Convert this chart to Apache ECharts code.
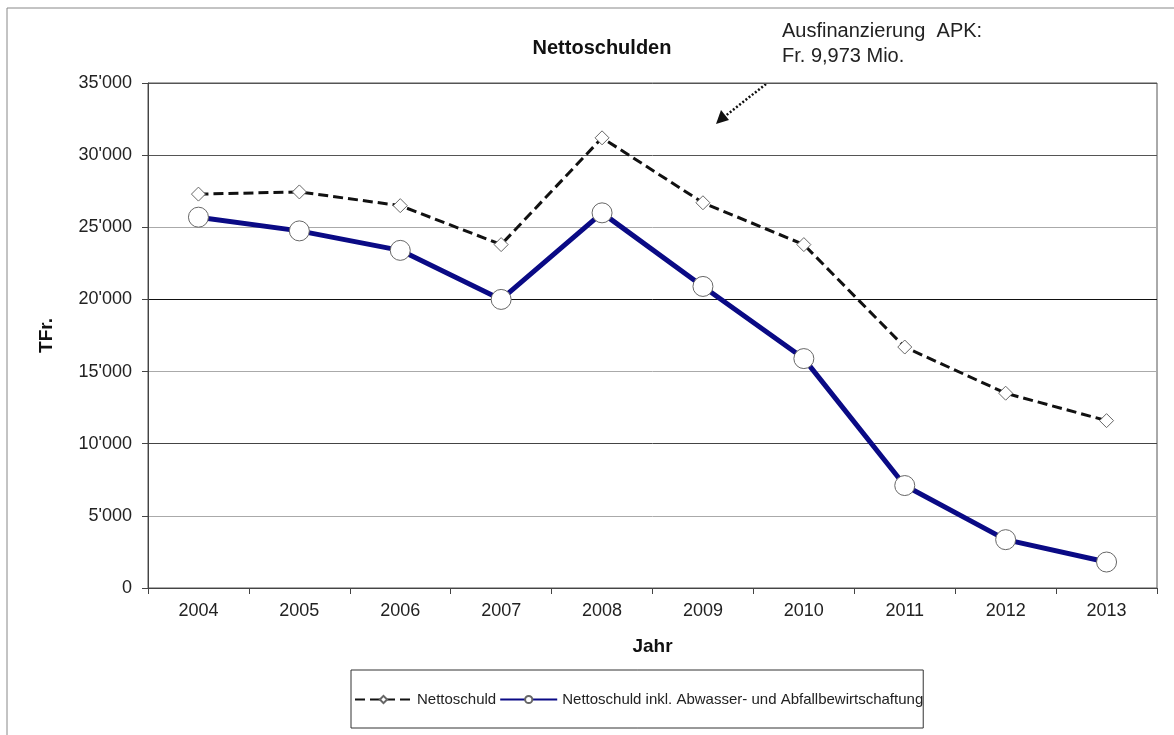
<!DOCTYPE html>
<html>
<head>
<meta charset="utf-8">
<script src="https://cdn.jsdelivr.net/npm/echarts@6/dist/echarts.min.js"></script>
<style>
  html, body { margin: 0; padding: 0; background: #fff; }
  #chart { width: 1174px; height: 735px; }
</style>
</head>
<body>
<div id="chart"></div>
<script>
  // Jahre
  var years = ['2004', '2005', '2006', '2007', '2008', '2009', '2010', '2011', '2012', '2013'];
  // Nettoschuld (TFr.)
  var nettoschuld = [27300, 27450, 26500, 23800, 31200, 26700, 23800, 16700, 13500, 11600];
  // Nettoschuld inkl. Abwasser- und Abfallbewirtschaftung (TFr.)
  var nettoschuldInkl = [25700, 24750, 23400, 20000, 26000, 20900, 15900, 7100, 3350, 1800];

  var font = 'Liberation Sans, Arial, sans-serif';

  var chart = echarts.init(document.getElementById('chart'));
  var option = {
    animation: false,
    textStyle: { fontFamily: font },
    title: {
      text: 'Nettoschulden',
      left: 597,
      top: 33,
      textAlign: 'center',
      textStyle: { fontSize: 20, fontWeight: 'bold', color: '#111', fontFamily: font }
    },
    legend: {
      left: 351,
      top: 670,
      padding: [22, 0, 21, 3],
      borderColor: '#333',
      borderWidth: 1,
      itemGap: 3,
      itemWidth: 57,
      itemHeight: 9,
      textStyle: { fontSize: 15, color: '#222', fontFamily: font },
      data: ['Nettoschuld', 'Nettoschuld inkl. Abwasser- und Abfallbewirtschaftung']
    },
    grid: { left: 148, right: 17, top: 83, bottom: 147, show: true, borderColor: '#555', borderWidth: 1 },
    xAxis: {
      type: 'category',
      data: years,
      boundaryGap: true,
      name: 'Jahr',
      nameLocation: 'middle',
      nameGap: 49,
      nameTextStyle: { fontSize: 19, fontWeight: 'bold', color: '#111' },
      axisLine: { lineStyle: { color: '#444', width: 1 } },
      axisTick: { show: true, length: 6, lineStyle: { color: '#444' } },
      axisLabel: { fontSize: 18, color: '#222', margin: 14 }
    },
    yAxis: {
      type: 'value',
      min: 0,
      max: 35000,
      interval: 5000,
      name: 'TFr.',
      nameLocation: 'middle',
      nameRotate: 90,
      nameGap: 92,
      nameTextStyle: { fontSize: 19, fontWeight: 'bold', color: '#111' },
      axisLine: { show: true, lineStyle: { color: '#444', width: 1 } },
      axisTick: { show: true, length: 6, lineStyle: { color: '#444' } },
      axisLabel: {
        fontSize: 18,
        color: '#222',
        margin: 16,
        formatter: function (v) {
          return String(v).replace(/\B(?=(\d{3})+(?!\d))/g, "'");
        }
      },
      splitLine: {
        show: true,
        lineStyle: { color: ['#444', '#aaa', '#444', '#aaa', '#111', '#aaa', '#555', '#555'], width: 1 }
      }
    },
    series: [
      {
        name: 'Nettoschuld',
        type: 'line',
        data: nettoschuld,
        symbol: 'diamond',
        symbolSize: 14,
        lineStyle: { color: '#111', width: 3, type: [10, 5] },
        itemStyle: { color: '#fff', borderColor: '#666', borderWidth: 1 },
        z: 3
      },
      {
        name: 'Nettoschuld inkl. Abwasser- und Abfallbewirtschaftung',
        type: 'line',
        data: nettoschuldInkl,
        symbol: 'circle',
        symbolSize: 20,
        lineStyle: { color: '#0a0a85', width: 5 },
        itemStyle: { color: '#fff', borderColor: '#666', borderWidth: 1 },
        z: 4
      }
    ],
    graphic: [
      // äusserer Rahmen
      { type: 'rect', shape: { x: 7, y: 8, width: 1200, height: 760 }, style: { fill: 'none', stroke: '#888', lineWidth: 1 }, silent: true },
      {
        type: 'text', left: 782, top: 19,
        style: { text: 'Ausfinanzierung  APK:\nFr. 9,973 Mio.', fontSize: 20, lineHeight: 25, fill: '#222', fontFamily: font }
      },
      // gepunkteter Pfeil
      { type: 'line', shape: { x1: 766, y1: 84, x2: 724, y2: 117 }, style: { stroke: '#111', lineWidth: 2.5, lineDash: [2, 2] }, silent: true },
      { type: 'polygon', shape: { points: [[716, 124], [721, 110], [729, 120]] }, style: { fill: '#111' }, silent: true }
    ]
  };
  chart.setOption(option);
</script>
</body>
</html>
